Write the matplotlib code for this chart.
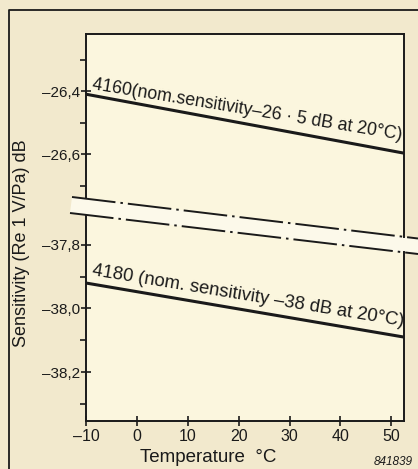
import matplotlib
matplotlib.use("Agg")
import matplotlib.pyplot as plt
from matplotlib.patches import Rectangle, Polygon
from matplotlib.lines import Line2D

plt.rcParams['font.family'] = ['Liberation Sans', 'DejaVu Sans']
plt.rcParams['lines.scale_dashes'] = False

# ---- data ----
temps = [-10, 52.5]
sens_4160 = [-26.41, -26.597]
sens_4180 = [-37.92, -38.09]
xticks = [-10, 0, 10, 20, 30, 40, 50]
xtick_labels = ['–10', '0', '10', '20', '30', '40', '50']
top_major = [-26.4, -26.6]
top_major_labels = ['–26,4', '–26,6']
top_minor = [-26.3, -26.5, -26.7]
bot_major = [-37.8, -38.0, -38.2]
bot_major_labels = ['–37,8', '–38,0', '–38,2']
bot_minor = [-37.9, -38.1, -38.3]
label_4160 = '4160(nom.sensitivity–26 · 5 dB at 20°C)'
label_4180 = '4180 (nom. sensitivity –38 dB at 20°C)'

W, H = 418, 469
OUTER = '#f2e9cd'
PLOTBG = '#fbf6de'
BAND = '#fcf9ea'
INK = '#1a1a1a'

fig = plt.figure(figsize=(W / 100, H / 100), dpi=100)
fig.patch.set_facecolor(OUTER)

def fx(x):
    return x / W

def fy(y):
    return 1 - y / H

# plot-area background
fig.patches.append(Rectangle((fx(86), fy(421)), fx(404) - fx(86), fy(34) - fy(421),
                             transform=fig.transFigure, facecolor=PLOTBG,
                             edgecolor='none', zorder=-2))
# light break band
fig.patches.append(Polygon([(fx(72), fy(197)), (fx(418), fy(238.5)),
                            (fx(418), fy(254)), (fx(70), fy(213))],
                           closed=True, transform=fig.transFigure,
                           facecolor=BAND, edgecolor='none', zorder=-1))
# outer frame
fig.lines.append(Line2D([fx(9), fx(9), fx(420)], [fy(470), fy(10), fy(10)],
                        transform=fig.transFigure, color=INK, lw=1.3, zorder=-1))

# axes
ax_top = fig.add_axes([fx(86), fy(237), fx(404) - fx(86), fy(34) - fy(237)])
ax_bot = fig.add_axes([fx(86), fy(421), fx(404) - fx(86), fy(215) - fy(421)])
for ax in (ax_top, ax_bot):
    ax.set_zorder(1)
    ax.set_facecolor('none')
    ax.set_xlim(-10, 52.5)
    for s in ax.spines.values():
        s.set_linewidth(1.4)
        s.set_color(INK)
    ax.tick_params(axis='y', which='major', direction='inout', length=7,
                   width=1.2, pad=0.5, labelsize=11, colors=INK)
    ax.tick_params(axis='y', which='minor', direction='out', length=4,
                   width=1.2, colors=INK)

ax_top.set_ylim(-26.863, -26.219)
ax_bot.set_ylim(-38.354, -37.706)

ax_top.spines['bottom'].set_visible(False)
ax_top.spines['left'].set_bounds(-26.74, -26.219)
ax_top.set_xticks([])
ax_top.set_yticks(top_major)
ax_top.set_yticklabels(top_major_labels)
ax_top.set_yticks(top_minor, minor=True)

ax_bot.spines['top'].set_visible(False)
ax_bot.spines['right'].set_bounds(-38.354, -37.822)
ax_bot.set_yticks(bot_major)
ax_bot.set_yticklabels(bot_major_labels)
ax_bot.set_yticks(bot_minor, minor=True)
ax_bot.set_xticks(xticks)
ax_bot.set_xticklabels(xtick_labels)
ax_bot.tick_params(axis='x', direction='inout', length=7, width=1.2,
                   pad=2, labelsize=11.5, colors=INK)

# data lines
ax_top.plot(temps, sens_4160, color=INK, lw=2.2, solid_capstyle='butt')
ax_bot.plot(temps, sens_4180, color=INK, lw=2.2, solid_capstyle='butt')

ax_top.text(-9.0, sens_4160[0] + 0.005, label_4160, fontsize=12.8, rotation=-9.3,
            rotation_mode='anchor', ha='left', va='bottom', color=INK)
ax_bot.text(-9.0, sens_4180[0] + 0.012, label_4180, fontsize=13.3, rotation=-9.3,
            rotation_mode='anchor', ha='left', va='bottom', color=INK)

# break dash-dot lines
dd = (0, (31.5, 3.6, 1.8, 3.6))
fig.lines.append(Line2D([fx(72), fx(418)], [fy(197), fy(238.5)],
                        transform=fig.transFigure, color=INK, lw=1.4,
                        linestyle=dd, zorder=3))
fig.lines.append(Line2D([fx(70), fx(418)], [fy(213), fy(254)],
                        transform=fig.transFigure, color=INK, lw=1.4,
                        linestyle=dd, zorder=3))

# axis labels
fig.text(fx(22), fy(243), 'Sensitivity (Re 1 V/Pa) dB', rotation=90,
         ha='center', va='center', fontsize=13, color=INK)
fig.text(fx(208), fy(457), 'Temperature  °C', ha='center', va='center',
         fontsize=13.5, color=INK)
fig.text(fx(413), fy(462), '841839', ha='right', va='center', fontsize=8.5,
         style='italic', color=INK)

fig.savefig('out.png', dpi=100, facecolor=fig.get_facecolor())
